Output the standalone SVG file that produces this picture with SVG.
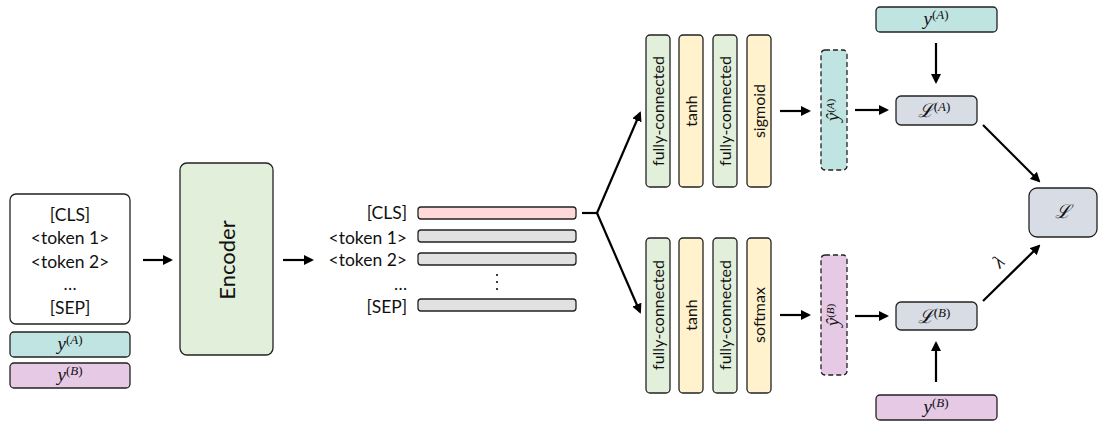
<svg xmlns="http://www.w3.org/2000/svg" width="1103" height="421" viewBox="0 0 1103 421">
<defs>
<marker id="ah" markerWidth="10" markerHeight="10" refX="8" refY="5" orient="auto" markerUnits="userSpaceOnUse"><path d="M0,0 L10,5 L0,10 z" fill="#000"/></marker>
<style>
.box{stroke:#222;stroke-width:1.3}
.t{font-family:Lato,"Open Sans",sans-serif;font-size:17.5px;fill:#111}
.r{font-family:Lato,"Open Sans",sans-serif;font-size:16px;fill:#111}
.m{font-family:"Liberation Serif","DejaVu Serif",serif;font-style:italic;font-size:19px;fill:#111}
.s{font-size:13px;font-style:normal}
.green{fill:#e2efda}
.yellow{fill:#fff2cc}
.teal{fill:#c0e4e2}
.pink{fill:#e5c9e5}
.gray{fill:#d7dce5}
.bar{fill:#e1e1e1}
.cls{fill:#ffd9d9}
.con{stroke:#000;stroke-width:2.2;fill:none}
</style>
</defs>
<rect width="1103" height="421" fill="#fff"/>

<g id="input">
<rect class="box" x="10" y="194" width="120" height="130" rx="6" fill="#fff"/>
<text class="t" x="70" y="221" text-anchor="middle">[CLS]</text>
<text class="t" x="70" y="244" text-anchor="middle">&lt;token 1&gt;</text>
<text class="t" x="70" y="268" text-anchor="middle">&lt;token 2&gt;</text>
<text class="t" x="70" y="290" text-anchor="middle">…</text>
<text class="t" x="70" y="314" text-anchor="middle">[SEP]</text>
</g>
<g id="yA_in"><rect class="box teal" x="10" y="332" width="120" height="25" rx="4"/><text class="m" x="70" y="350" text-anchor="middle">y<tspan class="s" dy="-6">(<tspan font-style="italic">A</tspan>)</tspan></text></g>
<g id="yB_in"><rect class="box pink" x="10" y="363" width="120" height="25" rx="4"/><text class="m" x="70" y="381" text-anchor="middle">y<tspan class="s" dy="-6">(<tspan font-style="italic">B</tspan>)</tspan></text></g>

<g id="encoder"><rect class="box green" x="180" y="163" width="93" height="192" rx="7"/><text font-family="Lato,'Open Sans',sans-serif" font-size="22" fill="#111" text-anchor="middle" transform="translate(235,260) rotate(-90)">Encoder</text></g>

<g id="tokens">
<text class="t" x="407" y="219" text-anchor="end">[CLS]</text>
<text class="t" x="407" y="244" text-anchor="end">&lt;token 1&gt;</text>
<text class="t" x="407" y="266" text-anchor="end">&lt;token 2&gt;</text>
<text class="t" x="407" y="290" text-anchor="end">…</text>
<text class="t" x="407" y="313" text-anchor="end">[SEP]</text>
<rect class="box cls" x="418" y="207" width="158" height="12" rx="3"/>
<rect class="box bar" x="418" y="230" width="158" height="12" rx="3"/>
<rect class="box bar" x="418" y="253" width="158" height="12" rx="3"/>
<rect class="box bar" x="418" y="299" width="158" height="12" rx="3"/>
<circle cx="497" cy="275" r="1.1" fill="#111"/><circle cx="497" cy="282" r="1.1" fill="#111"/><circle cx="497" cy="289" r="1.1" fill="#111"/>
</g>

<g id="headA">
<rect class="box green" x="646" y="35" width="24" height="152" rx="4"/>
<rect class="box yellow" x="679" y="35" width="24" height="152" rx="4"/>
<rect class="box green" x="713" y="35" width="24" height="152" rx="4"/>
<rect class="box yellow" x="747" y="35" width="24" height="152" rx="4"/>
<text class="r" text-anchor="middle" transform="translate(664,111) rotate(-90)">fully-connected</text>
<text class="r" text-anchor="middle" transform="translate(697,111) rotate(-90)">tanh</text>
<text class="r" text-anchor="middle" transform="translate(731,111) rotate(-90)">fully-connected</text>
<text class="r" text-anchor="middle" transform="translate(765,111) rotate(-90)">sigmoid</text>
</g>
<g id="headB">
<rect class="box green" x="646" y="238" width="24" height="155" rx="4"/>
<rect class="box yellow" x="679" y="238" width="24" height="155" rx="4"/>
<rect class="box green" x="713" y="238" width="24" height="155" rx="4"/>
<rect class="box yellow" x="747" y="238" width="24" height="155" rx="4"/>
<text class="r" text-anchor="middle" transform="translate(664,315) rotate(-90)">fully-connected</text>
<text class="r" text-anchor="middle" transform="translate(697,315) rotate(-90)">tanh</text>
<text class="r" text-anchor="middle" transform="translate(731,315) rotate(-90)">fully-connected</text>
<text class="r" text-anchor="middle" transform="translate(765,315) rotate(-90)">softmax</text>
</g>

<g id="yhatA"><rect class="box teal" x="821" y="50" width="26" height="120" rx="4" stroke-dasharray="5,3"/><text class="m" font-size="16" text-anchor="middle" transform="translate(839,110) rotate(-90)">ŷ<tspan font-size="11" font-style="normal" dy="-5">(<tspan font-style="italic">A</tspan>)</tspan></text></g>
<g id="yhatB"><rect class="box pink" x="821" y="255" width="26" height="120" rx="4" stroke-dasharray="5,3"/><text class="m" font-size="16" text-anchor="middle" transform="translate(839,315) rotate(-90)">ŷ<tspan font-size="11" font-style="normal" dy="-5">(<tspan font-style="italic">B</tspan>)</tspan></text></g>

<g id="yA_top"><rect class="box teal" x="876" y="7" width="121" height="25" rx="4"/><text class="m" x="936" y="25" text-anchor="middle">y<tspan class="s" dy="-6">(<tspan font-style="italic">A</tspan>)</tspan></text></g>
<g id="LA"><rect class="box gray" x="896" y="96" width="81" height="29" rx="5"/><text class="m" font-family="'DejaVu Serif',serif" font-size="16" x="934" y="117" text-anchor="middle">ℒ<tspan class="s" font-family="'Liberation Serif',serif" dy="-6">(<tspan font-style="italic">A</tspan>)</tspan></text></g>
<g id="LB"><rect class="box gray" x="896" y="302" width="81" height="28" rx="5"/><text class="m" font-family="'DejaVu Serif',serif" font-size="16" x="934" y="323" text-anchor="middle">ℒ<tspan class="s" font-family="'Liberation Serif',serif" dy="-6">(<tspan font-style="italic">B</tspan>)</tspan></text></g>
<g id="yB_bot"><rect class="box pink" x="876" y="395" width="121" height="25" rx="4"/><text class="m" x="936" y="413" text-anchor="middle">y<tspan class="s" dy="-6">(<tspan font-style="italic">B</tspan>)</tspan></text></g>
<g id="L"><rect class="box gray" x="1029" y="188" width="68" height="49" rx="8"/><text class="m" font-family="'DejaVu Serif',serif" font-size="16" x="1063" y="218" text-anchor="middle">ℒ</text></g>

<g id="connectors">
<line class="con" x1="143" y1="260" x2="171" y2="260" marker-end="url(#ah)"/>
<line class="con" x1="283" y1="260" x2="312" y2="260" marker-end="url(#ah)"/>
<line class="con" x1="582" y1="213" x2="598" y2="213"/>
<line class="con" x1="597" y1="213" x2="640" y2="113" marker-end="url(#ah)"/>
<line class="con" x1="597" y1="213" x2="640" y2="312" marker-end="url(#ah)"/>
<line class="con" x1="780" y1="111" x2="809" y2="111" marker-end="url(#ah)"/>
<line class="con" x1="780" y1="315" x2="809" y2="315" marker-end="url(#ah)"/>
<line class="con" x1="855" y1="110" x2="887" y2="110" marker-end="url(#ah)"/>
<line class="con" x1="855" y1="316" x2="887" y2="316" marker-end="url(#ah)"/>
<line class="con" x1="936" y1="43" x2="936" y2="82" marker-end="url(#ah)"/>
<line class="con" x1="936" y1="382" x2="936" y2="343" marker-end="url(#ah)"/>
<line class="con" x1="983" y1="125" x2="1039" y2="181" marker-end="url(#ah)"/>
<line class="con" x1="983" y1="301" x2="1039" y2="246" marker-end="url(#ah)"/>
<text class="m" font-size="16" text-anchor="middle" transform="translate(1003,266) rotate(-45)">λ</text>
</g>
</svg>
